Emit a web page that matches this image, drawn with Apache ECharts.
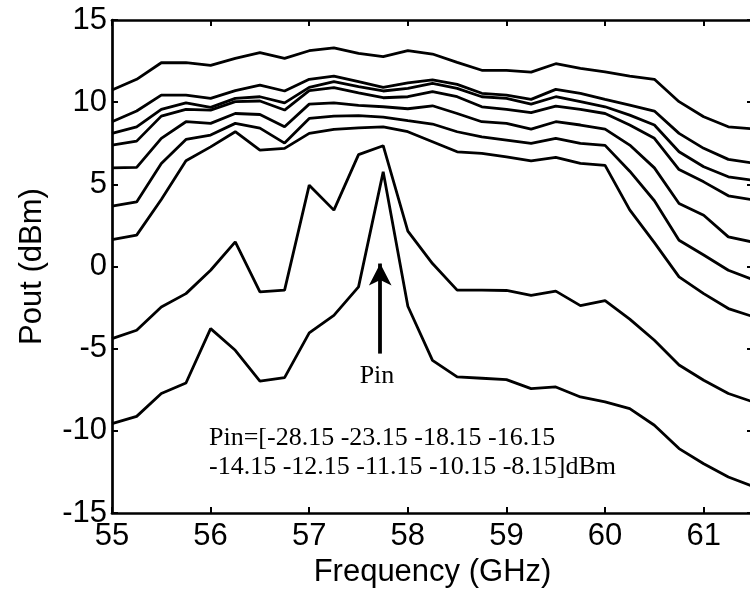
<!DOCTYPE html>
<html><head><meta charset="utf-8">
<script src="https://cdn.jsdelivr.net/npm/echarts@6/dist/echarts.min.js"></script>
<style>html,body{margin:0;padding:0;background:#fff}#c{width:750px;height:590px}</style>
</head><body><div id="c"></div>
<script>
// Frequency points (GHz)
const freq = [55, 55.25, 55.5, 55.75, 56, 56.25, 56.5, 56.75, 57, 57.25, 57.5, 57.75, 58, 58.25, 58.5, 58.75, 59, 59.25, 59.5, 59.75, 60, 60.25, 60.5, 60.75, 61, 61.25, 61.5];
// Pout (dBm) for each input power
const pinLabels = ['-8.15', '-10.15', '-11.15', '-12.15', '-14.15', '-16.15', '-18.15', '-23.15', '-28.15'];
const poutPin_8_15  = [10.74, 11.39, 12.4, 12.4, 12.24, 12.67, 13.01, 12.67, 13.13, 13.31, 12.97, 12.77, 13.13, 12.93, 12.42, 11.94, 11.94, 11.83, 12.34, 12.06, 11.85, 11.59, 11.39, 10.03, 9.11, 8.5, 8.38];
const poutPin_10_15 = [8.81, 9.46, 10.43, 10.43, 10.23, 10.7, 11.04, 10.68, 11.39, 11.59, 11.25, 10.9, 11.18, 11.35, 11.08, 10.54, 10.43, 10.17, 10.78, 10.54, 10.17, 9.82, 9.46, 8.1, 7.19, 6.52, 6.29];
const poutPin_11_15 = [8.1, 8.5, 9.56, 9.96, 9.68, 10.23, 10.33, 9.96, 10.9, 11.25, 10.94, 10.68, 10.84, 11.14, 10.84, 10.33, 10.23, 9.88, 10.33, 10.03, 9.72, 9.21, 8.61, 6.98, 6.07, 5.46, 5.24];
const poutPin_12_15 = [7.39, 7.63, 9.15, 9.56, 9.52, 10.03, 10.07, 9.52, 10.7, 10.88, 10.57, 10.27, 10.33, 10.64, 10.33, 9.72, 9.56, 9.36, 9.76, 9.56, 9.31, 8.61, 7.8, 5.9, 5.15, 4.3, 4.06];
const poutPin_14_15 = [6.0, 6.03, 7.8, 8.81, 8.71, 9.31, 9.25, 8.5, 9.88, 9.96, 9.8, 9.72, 9.6, 9.78, 9.31, 8.81, 8.71, 8.36, 8.81, 8.61, 8.36, 7.39, 6.0, 3.83, 3.12, 1.8, 1.48];
const poutPin_16_15 = [3.67, 3.93, 6.27, 7.73, 8.0, 8.71, 8.42, 7.51, 9.01, 9.15, 9.18, 9.09, 8.87, 8.67, 8.2, 7.89, 7.69, 7.49, 7.8, 7.49, 7.37, 5.8, 4.0, 1.6, 0.7, -0.23, -0.8];
const poutPin_18_15 = [1.64, 1.91, 4.08, 6.43, 7.28, 8.2, 7.08, 7.19, 8.1, 8.35, 8.44, 8.5, 8.2, 7.59, 6.98, 6.88, 6.67, 6.43, 6.64, 6.27, 6.15, 3.45, 1.45, -0.63, -1.65, -2.56, -3.05];
const poutPin_23_15 = [-4.39, -3.88, -2.46, -1.65, -0.23, 1.5, -1.55, -1.44, 4.95, 3.43, 6.81, 7.35, 2.15, 0.18, -1.44, -1.44, -1.46, -1.75, -1.5, -2.38, -2.07, -3.2, -4.49, -5.99, -6.92, -7.73, -8.24];
const poutPin_28_15 = [-9.56, -9.12, -7.73, -7.09, -3.78, -5.1, -6.97, -6.76, -4.04, -2.97, -1.24, 5.76, -2.42, -5.71, -6.72, -6.8, -6.88, -7.43, -7.33, -7.94, -8.24, -8.65, -9.66, -11.08, -12.0, -12.81, -13.38];
const allPout = [poutPin_8_15, poutPin_10_15, poutPin_11_15, poutPin_12_15, poutPin_14_15, poutPin_16_15, poutPin_18_15, poutPin_23_15, poutPin_28_15];

// Axis ticks
const xTicks = [55, 56, 57, 58, 59, 60, 61];
const yTicks = [-15, -10, -5, 0, 5, 10, 15];

// Arrow annotation (data coords)
const arrowX = 57.72;
const arrowY = [-5.3, 0.18];

const chart = echarts.init(document.getElementById('c'), null, {renderer: 'canvas'});
const sansFont = '"Liberation Sans", Arial, sans-serif';
const serifFont = '"Liberation Serif", "Times New Roman", serif';

const xBase = {
  type: 'value', min: xTicks[0], max: 61.5, interval: 1,
  axisLine: {show: true, onZero: false, lineStyle: {color: '#000', width: 2.7}},
  axisTick: {show: true, inside: true, length: 6, lineStyle: {color: '#000', width: 2}},
  splitLine: {show: false}
};
const yBase = {
  type: 'value', min: yTicks[0], max: yTicks[yTicks.length - 1], interval: 5,
  axisLine: {show: true, onZero: false, lineStyle: {color: '#000', width: 2.7}},
  axisTick: {show: true, inside: true, length: 6, lineStyle: {color: '#000', width: 2}},
  splitLine: {show: false}
};

const series = allPout.map((vals, i) => ({
  name: 'Pin=' + pinLabels[i],
  type: 'line',
  data: freq.map((f, k) => [f, vals[k]]),
  showSymbol: false,
  symbol: 'none',
  lineStyle: {color: '#000', width: 2.8},
  itemStyle: {color: '#000'},
  animation: false,
  silent: true,
  z: 3
}));
series[series.length - 1].markLine = {
  silent: true,
  animation: false,
  symbol: ['none', 'arrow'],
  symbolSize: [17, 22],
  label: {show: false},
  lineStyle: {color: '#000', width: 3.8, type: 'solid'},
  itemStyle: {color: '#000'},
  data: [[{coord: [arrowX, arrowY[0]]}, {coord: [arrowX, arrowY[1]]}]]
};

chart.setOption({
  backgroundColor: '#fff',
  animation: false,
  grid: {left: 112, top: 20, width: 641, height: 493, outerBoundsMode: 'none', containLabel: false},
  xAxis: [
    Object.assign({}, xBase, {
      position: 'bottom',
      name: 'Frequency (GHz)', nameLocation: 'middle', nameGap: 43,
      nameTextStyle: {color: '#000', fontSize: 31, fontFamily: sansFont},
      axisLabel: {show: true, color: '#000', fontSize: 31, fontFamily: sansFont, margin: 8, showMaxLabel: false,
        formatter: v => (Number.isInteger(v) ? String(v) : '')}
    }),
    Object.assign({}, xBase, {position: 'top', axisLabel: {show: false}})
  ],
  yAxis: [
    Object.assign({}, yBase, {
      position: 'left',
      name: 'Pout (dBm)', nameLocation: 'middle', nameGap: 64,
      nameTextStyle: {color: '#000', fontSize: 31, fontFamily: sansFont},
      axisLabel: {show: true, color: '#000', fontSize: 31, fontFamily: sansFont, margin: 5}
    }),
    Object.assign({}, yBase, {position: 'right', axisLabel: {show: false}})
  ],
  series: series,
  graphic: [
    {type: 'text', x: 377, y: 376, silent: true, style: {text: 'Pin', font: '26px ' + serifFont, fill: '#000', textAlign: 'center', align: 'center', textVerticalAlign: 'middle', verticalAlign: 'middle'}},
    {type: 'text', x: 209, y: 438.5, silent: true, style: {text: 'Pin=[-28.15 -23.15 -18.15 -16.15', font: '26px ' + serifFont, fill: '#000', textAlign: 'left', align: 'left', textVerticalAlign: 'middle', verticalAlign: 'middle'}},
    {type: 'text', x: 209, y: 467, silent: true, style: {text: '-14.15 -12.15 -11.15 -10.15 -8.15]dBm', font: '26px ' + serifFont, fill: '#000', textAlign: 'left', align: 'left', textVerticalAlign: 'middle', verticalAlign: 'middle'}}
  ]
});
</script>
</body></html>
